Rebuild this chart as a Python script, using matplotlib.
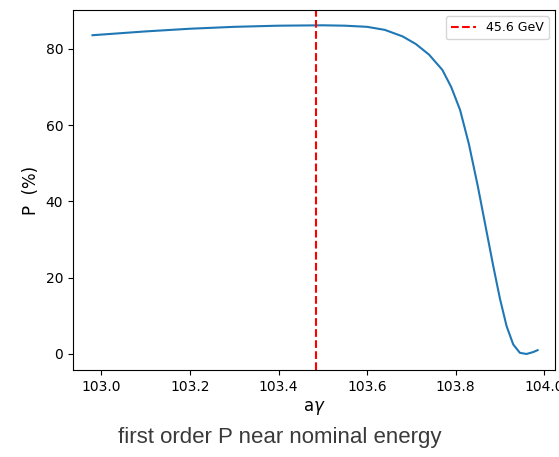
import matplotlib.pyplot as plt

# polarization vs a*gamma
a_gamma = [102.98, 103.1, 103.2, 103.3, 103.4, 103.5, 103.55, 103.6, 103.64,
           103.68, 103.71, 103.74, 103.77, 103.79, 103.81, 103.83, 103.85,
           103.87, 103.885, 103.9, 103.915, 103.93, 103.945, 103.96, 103.975,
           103.985]
P = [83.6, 84.6, 85.3, 85.8, 86.1, 86.2, 86.1, 85.8, 85.0,
     83.3, 81.3, 78.5, 74.5, 70.0, 64.0, 55.0, 44.0,
     32.0, 23.0, 14.5, 7.3, 2.5, 0.3, 0.0, 0.5,
     1.0]
nominal = 45.6 / 0.440649  # a*gamma at 45.6 GeV

fig = plt.figure(figsize=(5.59, 4.57), dpi=100)
ax = fig.add_axes([0.1306, 0.1904, 0.862, 0.7876])
ax.plot(a_gamma, P)
ax.axvline(nominal, color='r', linestyle='--', label='45.6 GeV')
ax.set_xlim(102.936, 104.024)
ax.set_ylim(-4.2, 90.2)
ax.set_xticks([103.0, 103.2, 103.4, 103.6, 103.8, 104.0])
ax.set_xlabel(r'a$\gamma$', fontsize=12)
ax.set_ylabel('P  (%)', fontsize=12)
ax.legend(loc='upper right', fontsize=9)

fig.text(0.5, 1 - 437 / 457, 'first order P near nominal energy',
         ha='center', va='center', fontsize=16, color='#3a3a3a',
         family='Liberation Sans')

fig.savefig('out.png', dpi=100)
